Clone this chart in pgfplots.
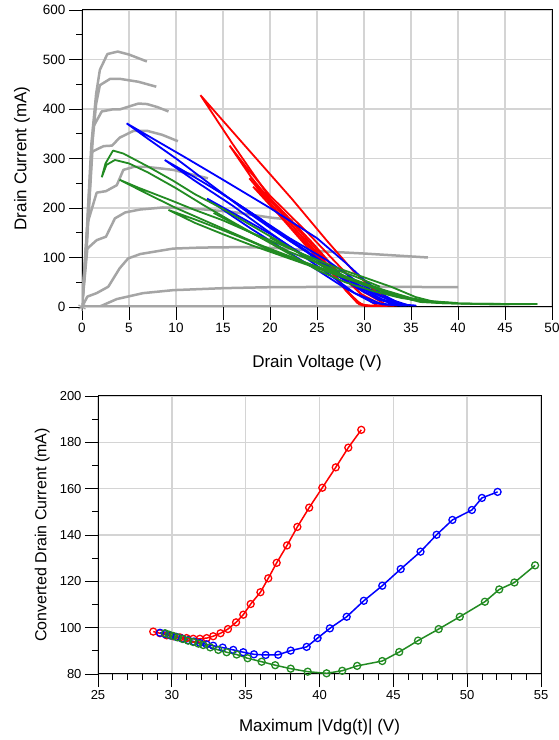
\documentclass[border=0pt]{standalone}
\usepackage{fontspec}
\setmainfont{Liberation Sans}
\usepackage{pgfplots}
\pgfplotsset{compat=1.18}
\definecolor{mygray}{RGB}{165,165,165}
\definecolor{gridgray}{RGB}{212,212,212}
\definecolor{mygreen}{RGB}{34,139,34}
\pgfplotsset{
  common/.style={
    scale only axis,
    grid=major, major grid style={gridgray, line width=1.5bp},
    tick align=outside, tick pos=left,
    major tick length=13bp, minor tick length=6bp,
    every tick/.style={black, line width=0.8bp},
    axis line style={line width=1bp, black},
    /pgf/number format/assume math mode=true,
  },
  gr/.style={mygray, line width=2.5bp, line join=round, no marks},
  rd/.style={red, line width=1.8bp, line join=round, no marks},
  bl/.style={blue, line width=1.8bp, line join=round, no marks},
  gn/.style={mygreen, line width=1.8bp, line join=round, no marks},
}
\begin{document}
\begin{tikzpicture}[x=1bp,y=1bp]
\path[use as bounding box] (0,0) rectangle (559,740);
% ---------------- top axis ----------------
\begin{axis}[common,
  at={(82bp,433bp)}, anchor=south west, width=470bp, height=297bp,
  xmin=0, xmax=50, ymin=0, ymax=600,
  xtick={0,5,...,50}, ytick={0,100,...,600}, minor y tick num=1,
  tick label style={font=\fontsize{13.5bp}{16bp}\selectfont},
  xlabel={Drain Voltage (V)}, ylabel={Drain Current (mA)},
  every axis x label/.style={at={(axis description cs:0.5,-0.1886)},anchor=center,font=\fontsize{17bp}{20bp}\selectfont},
  every axis y label/.style={at={(axis description cs:-0.1277,0.5)},anchor=center,rotate=90,font=\fontsize{17bp}{20bp}\selectfont},
]
% gray family curves
\addplot[gr] coordinates {(0,0)(0.5,150)(1,330)(1.5,430)(1.9,479)(2.7,511)(3.8,516)(5,510)(6.9,496)};
\addplot[gr] coordinates {(0,0)(0.5,140)(1,310)(1.5,410)(1.9,448)(3,461)(4,461)(6,455)(7.9,445)};
\addplot[gr] coordinates {(0,0)(0.5,130)(1.2,364)(2.1,395)(3.2,399)(4,399)(5,405)(6,411)(6.9,410)(8,404)(9.2,395)};
\addplot[gr] coordinates {(0,0)(0.5,120)(1.1,314)(2.3,325)(3.2,326)(4,342)(5.5,356)(6.9,356)(8.5,348)(10.2,335)};
\addplot[gr] coordinates {(0,0)(0.6,170)(1.56,231)(2.55,234)(3.7,246)(4.4,277)(5.5,283)(6.9,283)(9.7,277)(13.4,260)};
\addplot[gr] coordinates {(0,0)(0.57,118)(1.56,135)(2.55,142)(3.5,179)(4.6,191)(6.2,197)(8.6,201)(11.8,199)(16,192)(20.3,180)(22.5,176)};
\addplot[gr] coordinates {(0,0)(0.57,21)(1.56,28)(2.8,41)(4,78)(4.9,98)(6.2,107)(9.7,118)(12.6,120)(17,121)(21,119)(25,113)(30,108)(36.8,100)};
\addplot[gr] coordinates {(0,0)(1.9,1)(3.7,16)(6.5,28)(9.7,34)(15,38)(20,40)(30,41)(40,40)};
\addplot[gr] coordinates {(0,1)(30,1)};
\addplot[mygray, line width=1.2bp, only marks, mark=asterisk, mark size=4bp] coordinates {(0,0)};
% red loops
\addplot[rd] coordinates {(12.6,428)(16,330)(20,220)(23,150)(25.5,100)(27.5,50)(29,15)(30,3)(32,2)(33.5,3)(31,35)(28.9,72)(26,135)(22.3,219)(17,333)(12.6,428)};
\addplot[rd] coordinates {(15.7,326)(18,262)(20.5,205)(23.5,140)(26,85)(28,35)(29.5,5)(31,2)(32.5,3)(30,30)(27.5,80)(24,150)(20,225)(17.5,282)(15.7,326)};
\addplot[rd] coordinates {(18.2,243)(21,185)(24,120)(26.5,70)(28,35)(29.3,8)(30.5,2)(32,3)(29.8,25)(27.5,65)(24.5,130)(21.5,190)(18.2,243)};
\addplot[rd] coordinates {(17.8,260)(20,210)(23,145)(26,85)(28.3,30)(29.8,3)(31.5,2)(30,20)(27,75)(24,135)(21,200)(17.8,260)};
% blue loops
\addplot[bl] coordinates {(4.75,371)(8,335)(11,302)(15,257)(20,200)(25,139)(28,90)(30,55)(32,25)(34,5)(35.5,3)(33,6)(30,30)(27,65)(24,110)(20,160)(17,200)(14.7,233)(10,300)(7,340)(4.75,371)};
\addplot[bl] coordinates {(8.8,297)(12,262)(15,228)(18,190)(21,150)(24,112)(27,72)(29.5,40)(32,15)(34.5,3)(32,5)(29,28)(26,70)(23,110)(20,150)(16,205)(12,255)(8.8,297)};
\addplot[bl] coordinates {(13.3,219)(17,180)(20,148)(23,112)(26,78)(29,42)(31.5,15)(34,3)(31,8)(28,38)(25,75)(22,110)(18,158)(15.5,190)(13.3,219)};
\addplot[bl] coordinates {(14,240)(18,190)(22,140)(26,95)(29,55)(32,20)(34.8,3)};
\addplot[bl] coordinates {(16,215)(19,178)(22,135)(25,98)(28,60)(31,28)(34,4)};
% green loops
\addplot[gn] coordinates {(2.1,262)(2.5,290)(3.3,316)(4.4,310)(6.9,285)(9.7,255)(12,228)(15,198)(18,165)(21,132)(24,100)(26,78)(28,60)(30,45)(33,25)(36,12)(40,7)(45,6)(48.4,6)(44,5)(38,8)(34,18)(31,32)(28,50)(25,75)(22,108)(19,140)(16,172)(13,205)(10,240)(7,272)(5,290)(3.5,297)(2.6,287)(2.1,262)};
\addplot[gn] coordinates {(4,257)(6,241)(9.4,216)(12,196)(15,175)(18,150)(21,127)(24,103)(27,80)(30,60)(33,40)(35.5,20)(38,8)(42,6)(46,6)(40,7)(35,15)(31,40)(28,60)(25,80)(22,103)(19,125)(16,150)(13,175)(10,200)(7,228)(4,257)};
\addplot[gn] coordinates {(9.2,196)(12,177)(15,155)(18,132)(20.4,112)(23,95)(26,75)(29,55)(32,35)(35,18)(38,8)(36,10)(33,25)(30,45)(27,65)(24,85)(21,105)(18,125)(15,147)(12,170)(9.2,196)};
\addplot[gn] coordinates {(14,190)(18,150)(22,112)(26,82)(29,62)(31.7,41)};
\addplot[gn] coordinates {(20,140)(24,100)(28,62)(32,32)(35.3,14)(40,8)};
\end{axis}
% ---------------- bottom axis ----------------
\begin{axis}[common,
  at={(98bp,66bp)}, anchor=south west, width=443bp, height=278bp,
  xmin=25, xmax=55, ymin=80, ymax=200,
  xtick={25,30,...,55}, ytick={80,100,...,200},
  minor x tick num=4, minor y tick num=1,
  tick label style={font=\fontsize{13bp}{16bp}\selectfont},
  xlabel={Maximum |Vdg(t)| (V)}, ylabel={Converted Drain Current (mA)},
  every axis x label/.style={at={(axis description cs:0.5,-0.19)},anchor=center,font=\fontsize{17bp}{20bp}\selectfont},
  every axis y label/.style={at={(axis description cs:-0.126,0.5)},anchor=center,rotate=90,font=\fontsize{16bp}{19bp}\selectfont},
  mark options={solid, line width=1.3bp, fill=none},
]
\addplot[red, line width=1.5bp, mark=o, mark size=3.5bp] coordinates {
(28.74,98.3)(29.2,97.6)(29.65,96.7)(30.1,96.3)(30.55,95.8)(31.0,95.5)(31.45,95.2)(31.9,95.2)(32.36,95.5)(32.8,96.3)(33.3,97.6)(33.8,99.4)(34.35,102.3)(34.84,105.6)(35.34,110.2)(36.0,115.3)(36.53,121.3)(37.1,128.0)(37.8,135.5)(38.5,143.5)(39.3,151.8)(40.19,160.4)(41.1,169.2)(41.95,177.7)(42.83,185.4)};
\addplot[blue, line width=1.5bp, mark=o, mark size=3.5bp] coordinates {
(29.2,97.8)(29.55,97.2)(29.9,96.6)(30.3,96.0)(30.7,95.3)(31.1,94.6)(31.5,94.0)(31.9,93.4)(32.35,92.8)(32.8,92.2)(33.44,91.4)(34.16,90.4)(34.84,89.4)(35.56,88.5)(36.35,88.2)(37.2,88.3)(38.05,90.1)(39.13,91.7)(39.87,95.5)(40.7,99.7)(41.84,104.7)(43.0,111.6)(44.25,118.1)(45.5,125.3)(46.84,132.8)(47.93,140.1)(49.0,146.5)(50.32,150.8)(51.0,156.0)(52.06,158.6)};
\addplot[mygreen, line width=1.5bp, mark=o, mark size=3.5bp] coordinates {
(29.54,97.6)(29.8,97.0)(30.1,96.4)(30.4,95.8)(30.75,95.1)(31.1,94.4)(31.45,93.8)(31.8,93.1)(32.13,92.5)(32.6,91.5)(33.15,90.4)(33.71,89.4)(34.39,88.4)(35.13,86.8)(36.08,85.3)(37.0,83.8)(38.05,82.3)(39.2,81.0)(40.48,80.3)(41.54,81.4)(42.55,83.5)(44.25,85.6)(45.4,89.5)(46.67,94.4)(48.07,99.4)(49.5,104.7)(51.2,111.2)(52.17,116.5)(53.2,119.5)(54.6,126.9)};
\end{axis}
\end{tikzpicture}
\end{document}
